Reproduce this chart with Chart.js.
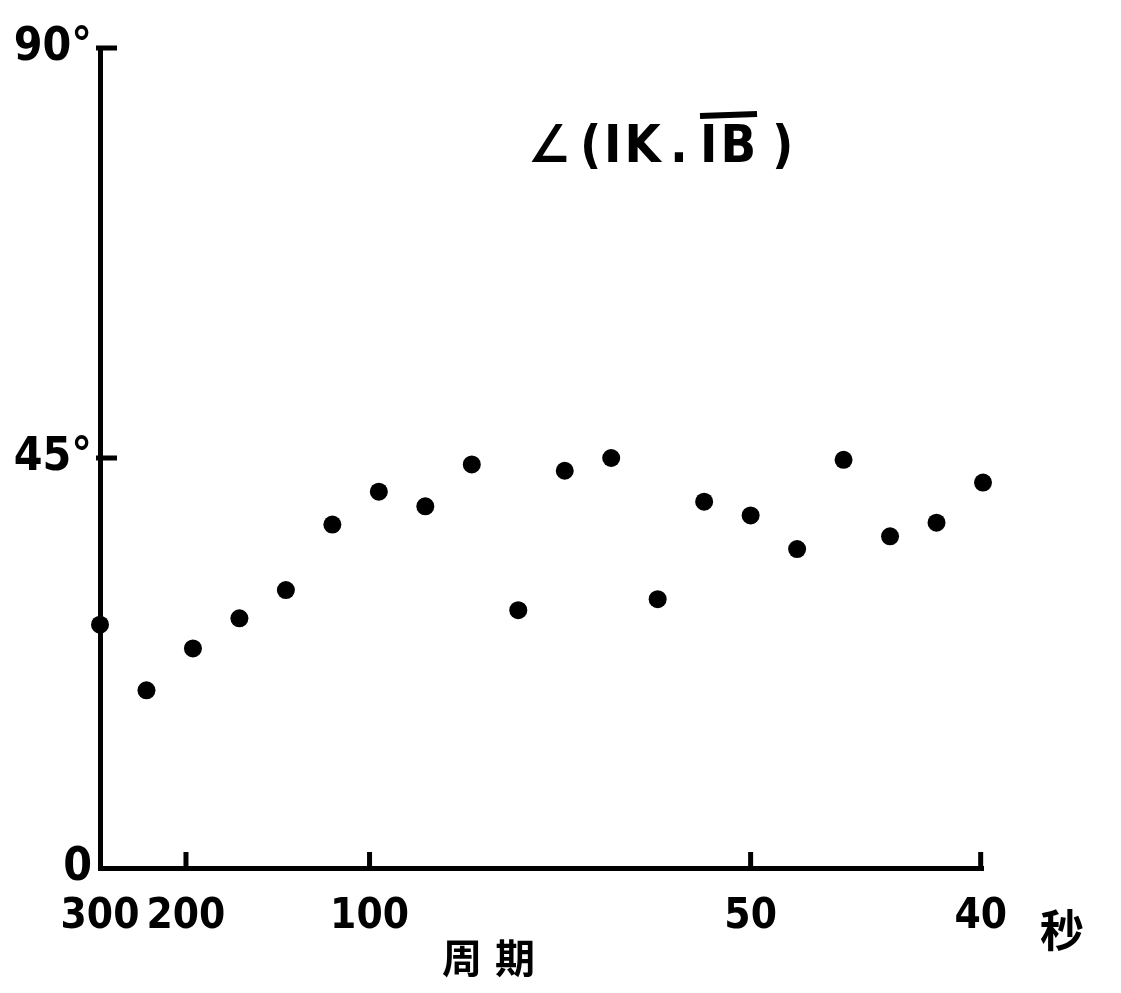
<!DOCTYPE html>
<html>
<head>
<meta charset="utf-8">
<script src="https://cdn.jsdelivr.net/npm/chart.js@4.4.1/dist/chart.umd.min.js"></script>
<style>
  html, body { margin: 0; padding: 0; background: #fff; }
  #wrap { width: 1121px; height: 993px; }
</style>
</head>
<body>
<div id="wrap"><canvas id="chart" width="1121" height="993"></canvas></div>
<script>
// angle between IK and IB (degrees), one value per period step
const angles = [26.7, 19.5, 24.1, 27.4, 30.5, 37.7, 41.3, 39.7, 44.3, 28.3,
                43.6, 45.0, 29.5, 40.2, 38.7, 35.0, 44.8, 36.4, 37.9, 42.3];
// period axis: labels (seconds) and where they sit along the step axis
const periodLabels = ['300', '200', '100', '50', '40'];
const periodTickPos = [0, 1.85, 5.8, 14, 18.95];
const angleTicks = [0, 45, 90];

const numFont = '"DejaVu Sans Condensed", "DejaVu Sans", sans-serif';
const cjkFont = '"Noto Sans CJK SC", sans-serif';

const points = angles.map((a, i) => ({ x: i, y: a }));

// heading pieces, spread out like hand lettering
const headingParts = [['∠', 528], ['(', 580], ['IK', 604], ['.', 670], ['IB', 700], [')', 772]];

// short tick marks pointing into the plot, plus the heading and axis captions
const decorations = {
  id: 'decorations',
  afterDraw(chart) {
    const { ctx, scales: { x, y } } = chart;
    const x0 = x.getPixelForValue(0);
    const y0 = y.getPixelForValue(0);
    ctx.save();
    ctx.strokeStyle = '#000';
    ctx.lineWidth = 5;
    ctx.beginPath();
    angleTicks.slice(1).forEach(v => {
      const py = y.getPixelForValue(v);
      ctx.moveTo(x0 - 4, py);
      ctx.lineTo(x0 + 17, py);
    });
    periodTickPos.slice(1).forEach(v => {
      const px = x.getPixelForValue(v);
      ctx.moveTo(px, y0);
      ctx.lineTo(px, y0 - 16);
    });
    ctx.stroke();

    ctx.fillStyle = '#000';
    ctx.textBaseline = 'middle';
    ctx.textAlign = 'left';
    ctx.font = 'bold 52px ' + numFont;
    ctx.letterSpacing = '3px';
    const hy = 148;
    headingParts.forEach(([t, px]) => ctx.fillText(t, px, hy));
    // vector bar over IB
    const ib = headingParts[4];
    const wIB = ctx.measureText(ib[0]).width;
    ctx.lineWidth = 6;
    ctx.beginPath();
    ctx.moveTo(ib[1], hy - 32);
    ctx.lineTo(ib[1] + wIB - 2, hy - 34);
    ctx.stroke();
    ctx.letterSpacing = '0px';

    ctx.font = 'bold 40px ' + cjkFont;
    ctx.textAlign = 'center';
    ctx.fillText('周', 462, 958);
    ctx.fillText('期', 515, 958);
    ctx.font = 'bold 44px ' + cjkFont;
    ctx.fillText('秒', 1062, 930);
    ctx.restore();
  }
};

new Chart(document.getElementById('chart'), {
  type: 'scatter',
  data: {
    datasets: [{
      data: points,
      pointRadius: 9,
      pointBackgroundColor: '#000',
      pointBorderWidth: 0,
      clip: false
    }]
  },
  options: {
    responsive: false,
    devicePixelRatio: 1,
    animation: false,
    events: [],
    layout: { padding: { top: 48, right: 138, left: 0, bottom: 0 } },
    plugins: { legend: { display: false }, tooltip: { enabled: false } },
    scales: {
      x: {
        type: 'linear',
        min: 0,
        max: 19,
        afterBuildTicks: s => { s.ticks = periodTickPos.map(v => ({ value: v })); },
        afterFit: s => { s.height = 125; },
        grid: { display: false, drawTicks: false },
        border: { display: true, color: '#000', width: 5 },
        ticks: {
          padding: 24,
          color: '#000',
          maxRotation: 0,
          autoSkip: false,
          font: { family: numFont, size: 42, weight: 'bold' },
          callback: (v, i) => periodLabels[i]
        }
      },
      y: {
        min: 0,
        max: 90,
        afterBuildTicks: s => { s.ticks = angleTicks.map(v => ({ value: v })); },
        afterFit: s => { s.width = 100; },
        grid: { display: false, drawTicks: false },
        border: { display: true, color: '#000', width: 5 },
        ticks: {
          padding: 8,
          color: '#000',
          font: { family: numFont, size: 46, weight: 'bold' },
          callback: v => (v === 0 ? '0' : v + '°')
        }
      }
    }
  },
  plugins: [decorations]
});
</script>
</body>
</html>
